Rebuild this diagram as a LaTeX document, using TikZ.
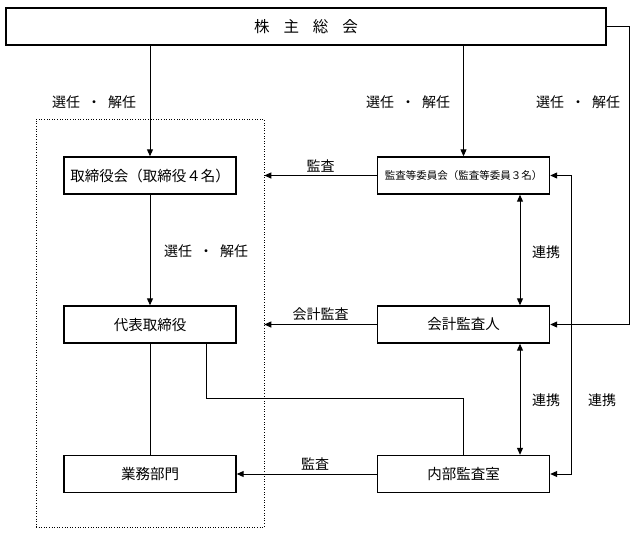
\documentclass[tikz,border=0pt]{standalone}
\usepackage{fontspec}
\setmainfont{Noto Sans CJK JP}
\usetikzlibrary{arrows.meta}

\begin{document}
\begin{tikzpicture}[x=1pt,y=-1pt, line width=1pt,
    >={Triangle[length=7pt,width=6pt]},
    box/.style={draw,line width=1.4pt,minimum width=172pt,minimum height=37pt,
                inner sep=0pt,font=\fontsize{14.5}{15}\selectfont},
    lbl/.style={font=\fontsize{14}{14}\selectfont,inner sep=2pt}]
  \useasboundingbox (0,0) rectangle (639,536);
  % boxes
  \node[draw,line width=1.6pt,minimum width=600pt,minimum height=37pt,inner sep=0pt,
        font=\fontsize{15.5}{16}\selectfont] (gm) at (306,26.5)
        {株\hspace{14pt}主\hspace{14pt}総\hspace{14pt}会};
  \node[draw,dotted,line width=0.6pt,minimum width=228pt,minimum height=408pt] (grp) at (150,323) {};
  \node[box] (tb) at (150,175.5) {取締役会（取締役４名）};
  \node[box] (rep) at (150,324.5) {代表取締役};
  \node[box] (biz) at (150,474) {業務部門};
  \node[box,font=\fontsize{10.5}{11}\selectfont] (ac) at (463.5,175.5) {監査等委員会（監査等委員３名）};
  \node[box] (aud) at (463.5,324.5) {会計監査人};
  \node[box] (ia) at (463.5,474) {内部監査室};
  \coordinate (rc) at (629,324.5);
  \coordinate (jn) at (206,398);
  % appointment
  \draw[->] (tb |- gm.south) -- (tb.north);
  \draw[->] (ac |- gm.south) -- (ac.north);
  \draw[->] (gm.east) -| (rc) -- (aud.east);
  \draw[->] (tb.south) -- (rep.north);
  \node[lbl] (sel1) at (94,102) {選任\hspace{7pt}・\hspace{7pt}解任};
  \node[lbl] (sel2) at (408,102) {選任\hspace{7pt}・\hspace{7pt}解任};
  \node[lbl] (sel3) at (578,102) {選任\hspace{7pt}・\hspace{7pt}解任};
  \node[lbl] (sel4) at (206,251) {選任\hspace{7pt}・\hspace{7pt}解任};
  % audit
  \draw[->] (ac.west) -- (ac.west -| grp.east) node[lbl,midway,above=1pt] (au1) {監査};
  \draw[->] (aud.west) -- (aud.west -| grp.east) node[lbl,midway,above=1pt] (au2) {会計監査};
  \draw[->] (ia.west) -- (biz.east) node[lbl,pos=0.44,above=1pt] (au3) {監査};
  % lines
  \draw (rep.south) -- (biz.north);
  \draw (rep.south -| jn) -- (jn) -| (ia.north);
  % cooperation
  \draw[<->] ([xshift=56.5pt]aud.north) -- ([xshift=56.5pt]ac.south);
  \draw[<->] ([xshift=56.5pt]aud.south) -- ([xshift=56.5pt]ia.north);
  \draw[<->] (ac.east) -- ++(21,0) |- (ia.east);
  \node[lbl] (co1) at (546,252) {連携};
  \node[lbl] (co2) at (546,400) {連携};
  \node[lbl] (co3) at (602,400) {連携};
\end{tikzpicture}
\end{document}
